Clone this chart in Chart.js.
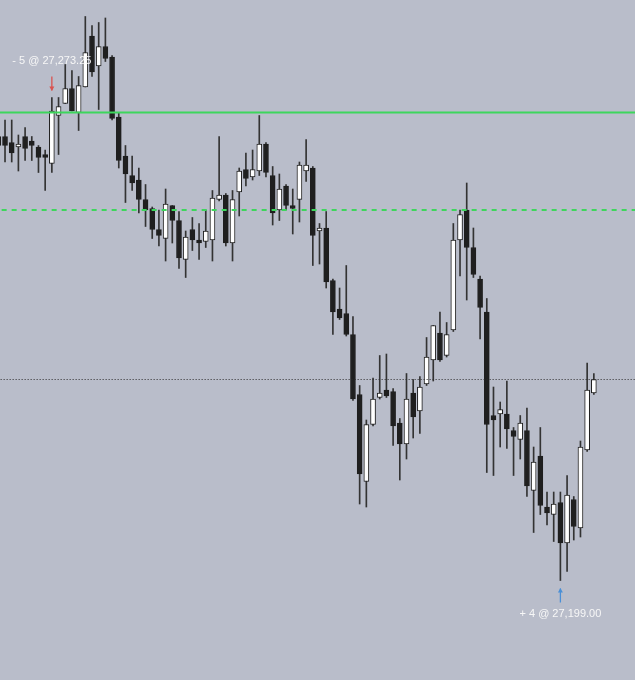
<!DOCTYPE html>
<html>
<head>
<meta charset="utf-8">
<script src="https://cdn.jsdelivr.net/npm/chart.js@4.4.1/dist/chart.umd.min.js"></script>
<style>
  html, body { margin: 0; padding: 0; background: #b9bdca; }
  #wrap { width: 635px; height: 680px; position: relative; }
</style>
</head>
<body>
<div id="wrap"><canvas id="candleChart"></canvas></div>
<script>
// OHLC per bar, first bar is cut off by the left edge
const opens = [27269.25,27269.25,27268.25,27267.5,27269.25,27268.5,27267.5,27266.25,27264.75,27272.75,
  27274.75,27277.25,27273.25,27277.5,27286,27281,27284.25,27282.5,27272.5,27266,
  27262.75,27262,27258.75,27257.25,27253.75,27252.25,27257.75,27255.25,27248.75,27253.75,
  27252,27251.75,27252,27258.75,27259.5,27251.5,27260,27263.75,27262.5,27263.5,
  27268,27262.75,27257,27261,27257.75,27258.75,27263.5,27264,27253.5,27254,
  27245.25,27240.5,27239.75,27236.25,27226.25,27211.75,27221.25,27225.75,27227,27226.75,
  27221.5,27218,27226.5,27223.5,27228,27232,27236.5,27232.75,27237,27252,
  27257,27250.75,27245.5,27240,27222.75,27223,27223,27220.25,27218.75,27220.25,
  27210.25,27216,27207.5,27206.25,27208.25,27201.5,27208.75,27204,27217,27226.5];
const highs = [27270.75,27272,27272,27269.5,27270.75,27269.25,27267.75,27267,27275.75,27275.75,
  27281.25,27280.25,27279.25,27289.25,27287.75,27288.25,27289,27282.75,27273.25,27267.75,
  27266,27264,27261.25,27257.5,27257,27260.5,27257.75,27256.75,27253.5,27255.75,
  27254.75,27257,27260.25,27269.25,27259.75,27260.25,27264,27266.5,27267,27272.75,
  27268.25,27264.25,27263,27261.25,27260.5,27265,27268.75,27264.25,27254.75,27256.75,
  27245.5,27244,27247.75,27239.25,27227.75,27222,27229,27232.75,27233,27227.25,
  27222.25,27229.75,27228.75,27229.25,27235.75,27237.75,27240,27238.25,27254.75,27257,
  27261.5,27254,27246,27242.25,27227.5,27225,27228.5,27220.75,27222.75,27224,
  27217.5,27220.75,27210,27210,27210,27212.75,27209.25,27218.5,27231.5,27229.75];
const lows = [27266.75,27265,27265,27263.5,27265.25,27265.25,27263.25,27260.25,27263.25,27266.25,
  27274.75,27273.5,27270.25,27277.5,27279.25,27273.75,27281.75,27272,27264,27258.25,
  27260.25,27256.5,27254.25,27252.25,27251,27248.5,27251.5,27247.25,27245.75,27250.25,
  27248.75,27250.75,27248.5,27258.5,27251,27248.5,27256,27261,27262,27262.75,
  27262.5,27254.5,27255.25,27257,27253,27255,27261.75,27247.75,27248,27244,
  27236.25,27238.75,27236,27225.25,27208,27207.5,27221,27225.5,27225.75,27217.75,
  27212,27215.5,27219,27219.75,27227.75,27228.5,27231.75,27232.5,27236.75,27246,
  27242,27245.75,27235.5,27213.25,27212.75,27217.5,27217.25,27212.75,27215.5,27209.25,
  27203.25,27206.25,27204.5,27201.75,27195.25,27196.75,27202,27202.5,27216.75,27226.25];
const closes = [27267.75,27267.75,27266.5,27268,27267.25,27267.75,27265.75,27265.75,27273.5,27274.25,
  27277.25,27273.5,27277.75,27283.25,27280,27284.25,27282.25,27272.25,27265.25,27263,
  27261.5,27258.75,27257,27253.75,27252.75,27258,27255.25,27249,27252.5,27252,
  27251.5,27253.5,27259,27259.5,27251.5,27258.75,27263.5,27262.25,27263.75,27268,
  27263.25,27256.5,27260.5,27257.75,27257.25,27264.5,27264.5,27252.75,27254,27245,
  27240,27239,27236.25,27225.5,27213,27221.25,27225.5,27226.5,27226,27221,
  27218,27225.5,27222.5,27227.5,27232.5,27237.75,27232,27236.25,27252,27256.25,
  27250.75,27246.25,27240.75,27221.25,27222,27223.75,27220.5,27219.25,27221.5,27211,
  27215,27207.75,27206.5,27208,27201.5,27209.5,27204.25,27217.5,27227,27228.75];
const bars = opens.map((o, i) => i - 1);

// horizontal levels
const stopLevel = 27273.25;
const targetLevel = 27257;
const lastPrice = 27228.75;

// fills
const sellBar = 7, sellLabel = '- 5 @ 27,273.25';
const buyBar = 83, buyLabel = '+ 4 @ 27,199.00';

const upColor = '#ffffff';
const downColor = '#1f1f1f';

function levelLine(value, color, width, dash) {
  return {
    type: 'line',
    data: [{ x: -2, y: value }, { x: 96, y: value }],
    borderColor: color,
    borderWidth: width,
    borderDash: dash,
    pointRadius: 0,
    order: 0
  };
}

function drawArrow(ctx, x, yTop, yBottom, color, down) {
  ctx.strokeStyle = color;
  ctx.lineWidth = 1.3;
  ctx.beginPath();
  ctx.moveTo(x, yTop);
  ctx.lineTo(x, yBottom);
  ctx.stroke();
  ctx.fillStyle = color;
  ctx.beginPath();
  if (down) {
    ctx.moveTo(x - 2.5, yBottom - 4);
    ctx.lineTo(x + 2.5, yBottom - 4);
    ctx.lineTo(x, yBottom + 0.5);
  } else {
    ctx.moveTo(x - 2.5, yTop + 4);
    ctx.lineTo(x + 2.5, yTop + 4);
    ctx.lineTo(x, yTop - 0.5);
  }
  ctx.closePath();
  ctx.fill();
}

const tradeMarks = {
  id: 'tradeMarks',
  afterDatasetsDraw(chart) {
    const ctx = chart.ctx;
    const x = chart.scales.x, y = chart.scales.y;
    ctx.save();
    ctx.font = '11px "Liberation Sans", Arial, sans-serif';
    ctx.textAlign = 'center';
    ctx.textBaseline = 'middle';

    const sx = x.getPixelForValue(sellBar);
    const sy = y.getPixelForValue(highs[sellBar + 1]);
    drawArrow(ctx, sx, sy - 21, sy - 7, '#d9534f', true);
    ctx.fillStyle = '#f7f7f7';
    ctx.fillText(sellLabel, sx, sy - 37);

    const bx = x.getPixelForValue(buyBar);
    const by = y.getPixelForValue(lows[buyBar + 1]);
    drawArrow(ctx, bx, by + 8, by + 22, '#4a8fd6', false);
    ctx.fillStyle = '#f7f7f7';
    ctx.fillText(buyLabel, bx, by + 33);
    ctx.restore();
  }
};

const ctx = document.getElementById('candleChart').getContext('2d');
const candleChart = new Chart(ctx, {
  type: 'bar',
  data: {
    datasets: [
      levelLine(stopLevel, '#3dd65c', 2, []),
      levelLine(targetLevel, '#3dd65c', 2, [5, 5]),
      levelLine(lastPrice, '#2b2b2b', 1, [1, 2]),
      {
        // bodies
        data: bars.map((b, i) => ({ x: b, y: [opens[i], closes[i]] })),
        backgroundColor: bars.map((b, i) => closes[i] > opens[i] ? upColor : downColor),
        borderColor: downColor,
        borderWidth: 1,
        borderSkipped: false,
        barThickness: 5,
        minBarLength: 2,
        grouped: false,
        order: 1
      },
      {
        // wicks
        data: bars.map((b, i) => ({ x: b, y: [lows[i], highs[i]] })),
        backgroundColor: '#333333',
        borderWidth: 0,
        barThickness: 1,
        grouped: false,
        order: 2
      }
    ]
  },
  options: {
    responsive: true,
    maintainAspectRatio: false,
    animation: false,
    layout: { padding: 0 },
    plugins: {
      legend: { display: false },
      tooltip: { enabled: false }
    },
    scales: {
      x: { type: 'linear', display: false, min: -0.75, max: 94.15, offset: false },
      y: { display: false, min: 27178.67, max: 27292 }
    }
  },
  plugins: [tradeMarks]
});
</script>
</body>
</html>
